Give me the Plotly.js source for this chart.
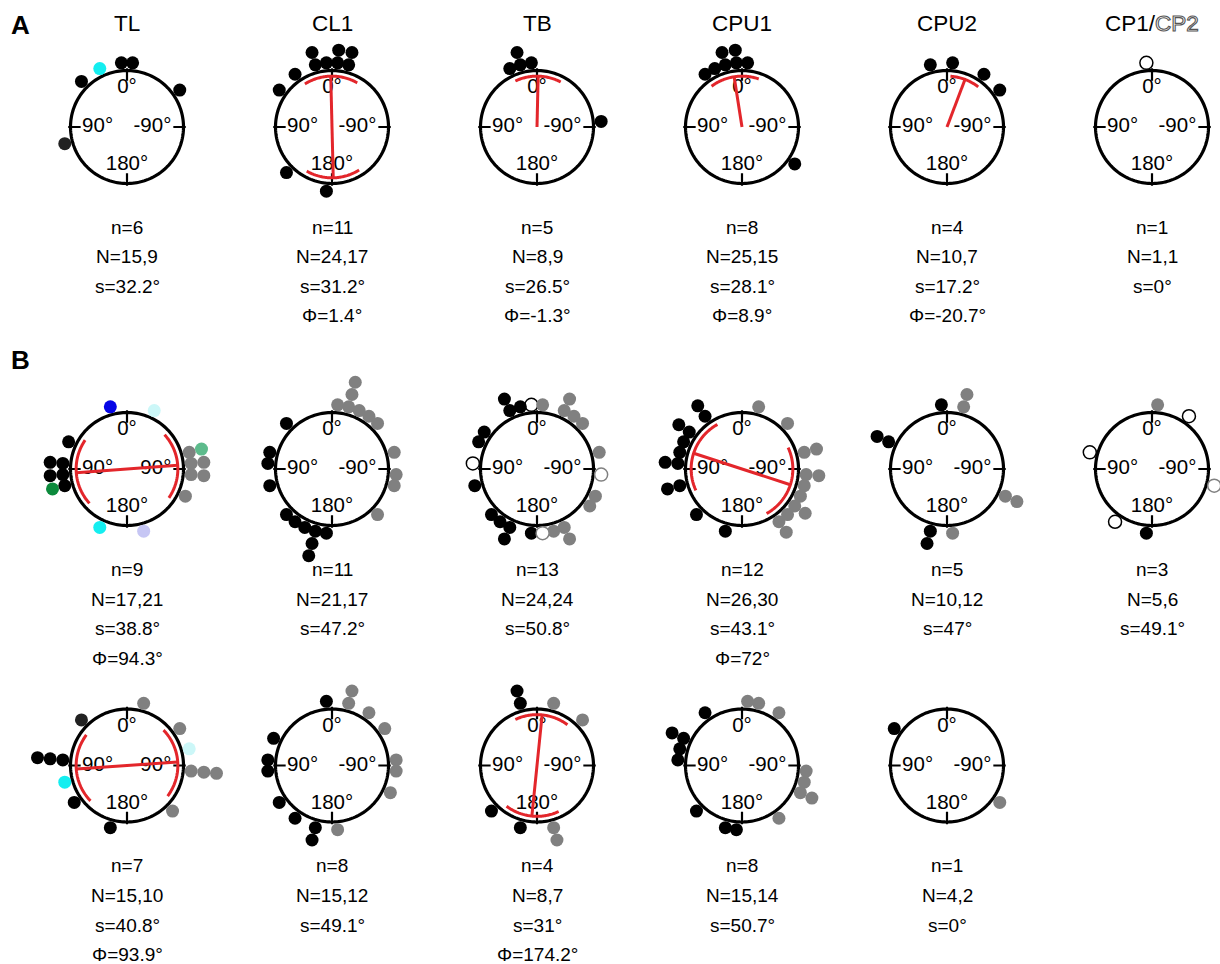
<!DOCTYPE html>
<html>
<head>
<meta charset="utf-8">
<script src="https://cdn.plot.ly/plotly-3.0.1.min.js"></script>
<style>html,body{margin:0;padding:0;background:#fff}</style>
</head>
<body>
<div id="chart" style="width:1220px;height:964px"></div>
<script>
// Preferred directions per neuron type. Angles in degrees: 0 = up, +90 = left, -90 = right.
// Dot kinds: k black, g gray, dk dark, ok/og open (black/gray outline), c cyan, lc light cyan,
// b blue, dg dark green, mg mid green, lv lavender.

// ---- Row A ----
const aTL_theta   = [5, -5, 25, 45, -55, 105];
const aTL_kind    = ['k', 'k', 'c', 'k', 'k', 'dk'];
const aCL1_theta  = [15, 5, -5, -15, 15, -5, -15, 35, 55, 135, 175];
const aCL1_kind   = ['k', 'k', 'k', 'k', 'k', 'k', 'k', 'k', 'k', 'k', 'k'];
const aTB_theta   = [5, 15, 25, 15, -85];
const aTB_kind    = ['k', 'k', 'k', 'k', 'k'];
const aCPU1_theta = [35, 25, 15, 5, -5, 15, 5, -125];
const aCPU1_kind  = ['k', 'k', 'k', 'k', 'k', 'k', 'k', 'k'];
const aCPU2_theta = [15, -5, -35, -55];
const aCPU2_kind  = ['k', 'k', 'k', 'k'];
const aCP_theta   = [5];
const aCP_kind    = ['ok'];

// ---- Row B, upper ----
const b1TL_theta = [15, -25, 65, 85, 85, 95, 95, 105, 105, 155, -165, -75, -75, -85, -85, -95, -95, -115];
const b1TL_kind  = ['b', 'lc', 'k', 'k', 'k', 'k', 'k', 'k', 'dg', 'c', 'lv', 'g', 'mg', 'g', 'g', 'g', 'g', 'g'];
const b1CL1_theta = [-5, -15, -25, -35, -45, -15, -15, -75, -95, -105, -135,
                     45, 75, 85, 105, 135, 145, 155, 165, 175, 165, 165];
const b1CL1_kind  = ['g', 'g', 'g', 'g', 'g', 'g', 'g', 'g', 'g', 'g', 'g',
                     'k', 'k', 'k', 'k', 'k', 'k', 'k', 'k', 'k', 'k', 'k'];
const b1TB_theta = [5, 15, 25, 25, 55, 65, 85, 105, 135, 145, 155, 155, 175,
                    -5, -25, -25, -35, -45, -75, -95, -115, -125, -155, -155, -165, -175];
const b1TB_kind  = ['ok', 'k', 'k', 'k', 'k', 'k', 'ok', 'k', 'k', 'k', 'k', 'k', 'k',
                    'g', 'g', 'g', 'g', 'g', 'g', 'og', 'g', 'g', 'g', 'g', 'g', 'og'];
const b1CPU1_theta = [35, 35, 55, 55, 65, 75, 85, 85, 105, 105, 135, 165,
                      -15, -45, -75, -75, -95, -95, -105, -115, -125, -125, -135, -145, -145];
const b1CPU1_kind  = ['k', 'k', 'k', 'k', 'k', 'k', 'k', 'k', 'k', 'k', 'k', 'k',
                      'g', 'g', 'g', 'g', 'g', 'g', 'g', 'g', 'g', 'g', 'g', 'g', 'g'];
const b1CPU2_theta = [5, -15, -15, 65, 65, -115, -115, 165, 165, -175];
const b1CPU2_kind  = ['k', 'g', 'g', 'k', 'k', 'g', 'g', 'k', 'k', 'g'];
const b1CP_theta = [-5, -35, 75, -105, 145, 175];
const b1CP_kind  = ['g', 'ok', 'ok', 'og', 'ok', 'k'];

// ---- Row B, lower ----
const b2TL_theta = [-15, 45, -55, -75, 85, 85, 85, -95, -95, -95, 105, 125, -135, 165];
const b2TL_kind  = ['g', 'dk', 'g', 'lc', 'k', 'k', 'k', 'g', 'g', 'g', 'c', 'k', 'g', 'k'];
const b2CL1_theta = [5, -15, -15, -35, -55, 65, 85, 95, -85, -95, -115, 125, 145, 165, 165, -175];
const b2CL1_kind  = ['k', 'g', 'g', 'g', 'g', 'k', 'k', 'k', 'g', 'g', 'g', 'k', 'k', 'k', 'k', 'g'];
const b2TB_theta = [15, 15, -15, -45, 135, 165, -165, -165];
const b2TB_kind  = ['k', 'k', 'g', 'g', 'k', 'k', 'g', 'g'];
const b2CPU1_theta = [-5, -15, 35, -35, 65, 65, 75, 85, -95, -105, -115, -115, 135, -145, 165, 175];
const b2CPU1_kind  = ['g', 'g', 'k', 'g', 'k', 'k', 'k', 'k', 'g', 'g', 'g', 'g', 'k', 'g', 'k', 'k'];
const b2CPU2_theta = [55, -125];
const b2CPU2_kind  = ['k', 'g'];

// ---- Column titles and summary statistics ----
const typeNames = ['TL', 'CL1', 'TB', 'CPU1', 'CPU2', 'CP1/CP2'];

const rowA_n = [6, 11, 5, 8, 4, 1];
const rowA_N = ['15,9', '24,17', '8,9', '25,15', '10,7', '1,1'];
const rowA_s = [32.2, 31.2, 26.5, 28.1, 17.2, 0];
const rowA_phi = [null, 1.4, -1.3, 8.9, -20.7, null];
const rowA_axial = [false, true, false, false, false, false];

const rowB1_n = [9, 11, 13, 12, 5, 3];
const rowB1_N = ['17,21', '21,17', '24,24', '26,30', '10,12', '5,6'];
const rowB1_s = [38.8, 47.2, 50.8, 43.1, 47, 49.1];
const rowB1_phi = [94.3, null, null, 72, null, null];
const rowB1_axial = [true, false, false, true, false, false];

const rowB2_n = [7, 8, 4, 8, 1];
const rowB2_N = ['15,10', '15,12', '8,7', '15,14', '4,2'];
const rowB2_s = [40.8, 49.1, 31, 50.7, 0];
const rowB2_phi = [93.9, null, 174.2, null, null];
const rowB2_axial = [true, false, true, false, false];

// ---------------------------------------------------------------
const W = 1220, H = 964;
const FONT = 'Arial, "Liberation Sans", Helvetica, sans-serif';
const colX = [127, 332, 537, 742, 947, 1152];
const rowY = [127, 469, 765.5];
const RPX = 56.5;            // pixel radius of the unit circle
const RED = '#e3262b';

const kindStyle = {
  k:  {fill: '#000000', line: '#000000', w: 0},
  g:  {fill: '#808080', line: '#808080', w: 0},
  dk: {fill: '#222222', line: '#222222', w: 0},
  ok: {fill: '#ffffff', line: '#000000', w: 1.5},
  og: {fill: '#ffffff', line: '#808080', w: 1.5},
  c:  {fill: '#14eef0', line: '#14eef0', w: 0},
  lc: {fill: '#ccf7f8', line: '#ccf7f8', w: 0},
  b:  {fill: '#0505e6', line: '#0505e6', w: 0},
  dg: {fill: '#0c8a3c', line: '#0c8a3c', w: 0},
  mg: {fill: '#5dbb8c', line: '#5dbb8c', w: 0},
  lv: {fill: '#c6c6f4', line: '#c6c6f4', w: 0}
};

const rows = [
  {y: rowY[0], n: rowA_n, N: rowA_N, s: rowA_s, phi: rowA_phi, axial: rowA_axial,
   dots: [[aTL_theta, aTL_kind], [aCL1_theta, aCL1_kind], [aTB_theta, aTB_kind],
          [aCPU1_theta, aCPU1_kind], [aCPU2_theta, aCPU2_kind], [aCP_theta, aCP_kind]]},
  {y: rowY[1], n: rowB1_n, N: rowB1_N, s: rowB1_s, phi: rowB1_phi, axial: rowB1_axial,
   dots: [[b1TL_theta, b1TL_kind], [b1CL1_theta, b1CL1_kind], [b1TB_theta, b1TB_kind],
          [b1CPU1_theta, b1CPU1_kind], [b1CPU2_theta, b1CPU2_kind], [b1CP_theta, b1CP_kind]]},
  {y: rowY[2], n: rowB2_n, N: rowB2_N, s: rowB2_s, phi: rowB2_phi, axial: rowB2_axial,
   dots: [[b2TL_theta, b2TL_kind], [b2CL1_theta, b2CL1_kind], [b2TB_theta, b2TB_kind],
          [b2CPU1_theta, b2CPU1_kind], [b2CPU2_theta, b2CPU2_kind]]}
];

// stacking: repeated angles pile outward
function stackLevels(theta) {
  const seen = {};
  return theta.map(t => { const k = seen[t] || 0; seen[t] = k + 1; return k; });
}

const data = [];
const layout = {
  width: W, height: H,
  margin: {l: 0, r: 0, t: 0, b: 0},
  paper_bgcolor: '#ffffff',
  showlegend: false,
  hovermode: false,
  annotations: []
};

const circleTheta = [], circleR = [];
for (let a = 0; a <= 360; a += 2) { circleTheta.push(a); circleR.push(1); }

let idx = 0;
rows.forEach((row, ri) => {
  row.dots.forEach((pair, ci) => {
    idx += 1;
    const sp = idx === 1 ? 'polar' : 'polar' + idx;
    const cx = colX[ci], cy = row.y;
    const rmax = Math.min(1.62, (W - cx) / RPX - 0.002);
    const h = RPX * rmax;
    layout[sp] = {
      domain: {x: [(cx - h) / W, (cx + h) / W], y: [1 - (cy + h) / H, 1 - (cy - h) / H]},
      bgcolor: 'rgba(0,0,0,0)',
      radialaxis: {visible: false, range: [0, rmax]},
      angularaxis: {visible: false, rotation: 90, direction: 'counterclockwise', showline: false, showgrid: false}
    };

    // unit circle
    data.push({type: 'scatterpolar', subplot: sp, mode: 'lines', r: circleR, theta: circleTheta,
               line: {color: '#000', width: 3.2}});
    // cardinal ticks
    data.push({type: 'scatterpolar', subplot: sp, mode: 'lines',
               r: [0.82, 1.04, null, 0.82, 1.04, null, 0.82, 1.04, null, 0.82, 1.04],
               theta: [0, 0, null, 90, 90, null, 180, 180, null, -90, -90],
               connectgaps: false, line: {color: '#000', width: 2.2}});
    // direction labels
    data.push({type: 'scatterpolar', subplot: sp, mode: 'text', cliponaxis: false,
               r: [0.685, 0.52, 0.45, 0.675], theta: [0, 90, -90, 180],
               text: ['0°', '90°', '-90°', '180°'], textposition: 'middle center',
               textfont: {family: FONT, size: 20.5, color: '#000'}});

    // mean direction and spread
    const phi = row.phi[ci];
    if (phi !== null) {
      const s = row.s[ci];
      const lr = row.axial[ci] ? [0.9, 0, 0.9] : [0, 0.9];
      const lt = row.axial[ci] ? [phi, phi, phi + 180] : [phi, phi];
      data.push({type: 'scatterpolar', subplot: sp, mode: 'lines', r: lr, theta: lt,
                 line: {color: RED, width: 3}});
      const centres = row.axial[ci] ? [phi, phi + 180] : [phi];
      centres.forEach(m => {
        const at = [], ar = [];
        for (let a = m - s; a <= m + s + 1e-9; a += 1) { at.push(a); ar.push(0.9); }
        data.push({type: 'scatterpolar', subplot: sp, mode: 'lines', r: ar, theta: at,
                   line: {color: RED, width: 3}});
      });
    }

    // individual cells
    const theta = pair[0], kind = pair[1];
    const lev = stackLevels(theta);
    data.push({type: 'scatterpolar', subplot: sp, mode: 'markers', cliponaxis: false,
               theta: theta, r: lev.map(l => 1.14 + 0.225 * l),
               marker: {size: 13, opacity: 1,
                        color: kind.map(k => kindStyle[k].fill),
                        line: {color: kind.map(k => kindStyle[k].line), width: kind.map(k => kindStyle[k].w)}}});

    // summary text
    const lines = ['n=' + row.n[ci], 'N=' + row.N[ci], 's=' + row.s[ci] + '°'];
    if (phi !== null) lines.push('Φ=' + phi + '°');
    const offs = [100, 130, 159.5, 189];
    lines.forEach((t, li) => {
      layout.annotations.push({xref: 'paper', yref: 'paper', x: cx / W, y: 1 - (cy + offs[li]) / H,
        xanchor: 'center', yanchor: 'middle', showarrow: false, text: t,
        font: {family: FONT, size: 19, color: '#000'}});
    });
  });
});

// column titles
typeNames.forEach((t, ci) => {
  const txt = t === 'CP1/CP2'
    ? 'CP1/<span style="fill:#ffffff;stroke:#555555;stroke-width:1.1px">CP2</span>'
    : t;
  layout.annotations.push({xref: 'paper', yref: 'paper', x: colX[ci] / W, y: 1 - 23 / H,
    xanchor: 'center', yanchor: 'middle', showarrow: false, text: txt,
    font: {family: FONT, size: 22.5, color: '#000'}});
});

// panel letters
[['A', 25], ['B', 360]].forEach(([t, y]) => {
  layout.annotations.push({xref: 'paper', yref: 'paper', x: 20.5 / W, y: 1 - y / H,
    xanchor: 'center', yanchor: 'middle', showarrow: false, text: '<b>' + t + '</b>',
    font: {family: FONT, size: 26, color: '#000'}});
});

Plotly.newPlot('chart', data, layout, {staticPlot: true, displayModeBar: false});
</script>
</body>
</html>
